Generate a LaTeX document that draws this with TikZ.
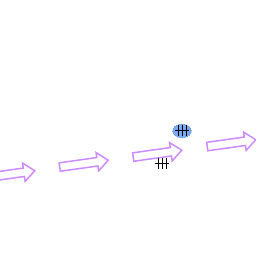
\documentclass[tikz,border=0pt]{standalone}
\usetikzlibrary{shapes.arrows,shapes.geometric}
\definecolor{arrowviolet}{RGB}{204,140,255}
\definecolor{blobfill}{RGB}{120,170,240}
\definecolor{blobline}{RGB}{90,110,150}
\tikzset{
  flowarrow/.style={single arrow, draw=arrowviolet, line width=1.5pt, fill=white,
    minimum height=49pt, minimum width=17pt, inner sep=3.5pt,
    single arrow head extend=5pt, single arrow tip angle=80, rotate=8},
  blob/.style={ellipse, fill=blobfill, draw=blobline, dotted, line width=0.6pt,
    minimum width=19pt, minimum height=14pt, inner sep=0pt},
  marker/.pic={
    \draw[black, line width=1pt] (-7,0) -- (7,0)
      (-4,-5.5) -- (-4,5.5) (0,-5.5) -- (0,5.5) (4,-5.5) -- (4,5.5);
  }
}
\begin{document}
\begin{tikzpicture}[x=1pt,y=-1pt]
\useasboundingbox (0,0) rectangle (256,256);
\node[flowarrow] (a1) at (8,174.5) {};
\node[flowarrow] (a2) at (81.5,164) {};
\node[flowarrow] (a3) at (155,154) {};
\node[flowarrow] (a4) at (229,143.5) {};
\node[blob] (b) at (182,131) {};
\pic at (b.center) {marker};
\coordinate (m) at (162,163.5);
\pic at (m) {marker};
\end{tikzpicture}
\end{document}
